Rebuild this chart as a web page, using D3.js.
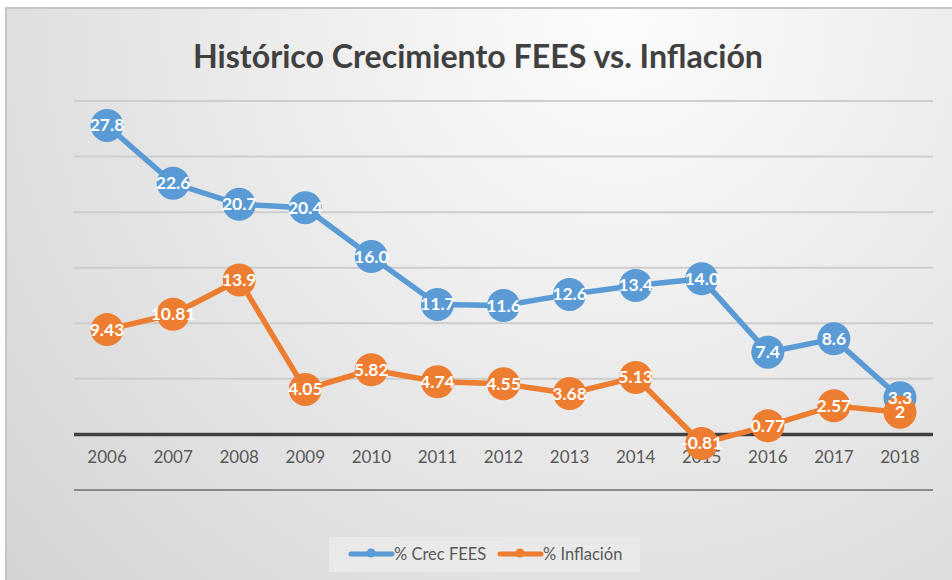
<!DOCTYPE html>
<html>
<head>
<meta charset="utf-8">
<script src="https://cdn.jsdelivr.net/npm/d3@7"></script>
<style>
  body { margin: 0; background: #fff; }
  svg { display: block; font-family: Lato, "Open Sans", sans-serif; }
</style>
</head>
<body>
<svg id="chart" width="952" height="580"></svg>
<script>

var years = [ '2006', '2007', '2008', '2009', '2010', '2011', '2012', '2013', '2014', '2015', '2016', '2017', '2018' ];
var crecFees = [ 27.8, 22.6, 20.7, 20.4, 16.0, 11.7, 11.6, 12.6, 13.4, 14.0, 7.4, 8.6, 3.3 ];
var inflacion = [ 9.43, 10.81, 13.9, 4.05, 5.82, 4.74, 4.55, 3.68, 5.13, -0.81, 0.77, 2.57, 2 ];
var feesLabels = [ '27.8', '22.6', '20.7', '20.4', '16.0', '11.7', '11.6', '12.6', '13.4', '14.0', '7.4', '8.6', '3.3' ];
var inflLabels = [ '9.43', '10.81', '13.9', '4.05', '5.82', '4.74', '4.55', '3.68', '5.13', '-0.81', '0.77', '2.57', '2' ];
var yTicks = [ -5, 0, 5, 10, 15, 20, 25, 30 ];

var series = [
	{ name: '% Crec FEES', values: crecFees, labels: feesLabels, color: '#5b9bd5' },
	{ name: '% Inflación', values: inflacion, labels: inflLabels, color: '#ed7d31' }
];

var svg = d3.select( '#chart' );

// background, whitest near the top middle
var defs = svg.append( 'defs' );
var grad = defs.append( 'radialGradient' )
	.attr( 'id', 'bg' )
	.attr( 'gradientUnits', 'userSpaceOnUse' )
	.attr( 'cx', 620 ).attr( 'cy', 20 )
	.attr( 'r', 820 );
grad.append( 'stop' ).attr( 'offset', '0' ).attr( 'stop-color', '#fcfcfc' );
grad.append( 'stop' ).attr( 'offset', '0.45' ).attr( 'stop-color', '#ebebeb' );
grad.append( 'stop' ).attr( 'offset', '1' ).attr( 'stop-color', '#d4d4d4' );

svg.append( 'rect' )
	.attr( 'x', 6 ).attr( 'y', 8 )
	.attr( 'width', 960 ).attr( 'height', 590 )
	.attr( 'fill', 'url(#bg)' )
	.attr( 'stroke', '#c6c6c6' )
	.attr( 'stroke-width', 2 );

// title
svg.append( 'text' )
	.attr( 'x', 478 ).attr( 'y', 68 )
	.attr( 'text-anchor', 'middle' )
	.attr( 'font-weight', 'bold' )
	.attr( 'font-size', 32 )
	.attr( 'fill', '#404040' )
	.attr( 'textLength', 570 )
	.attr( 'lengthAdjust', 'spacingAndGlyphs' )
	.text( 'Histórico Crecimiento FEES vs. Inflación' );

var plot = { left: 74, right: 933, top: 101, bottom: 490 };

var x = d3.scaleBand().domain( years ).range( [ plot.left, plot.right ] );
var y = d3.scaleLinear().domain( [ -5, 30 ] ).range( [ plot.bottom, plot.top ] );

// gridlines
svg.append( 'g' )
	.selectAll( 'line' )
	.data( yTicks )
	.enter()
	.append( 'line' )
	.attr( 'x1', plot.left ).attr( 'x2', plot.right )
	.attr( 'y1', function ( d ) { return y( d ); } )
	.attr( 'y2', function ( d ) { return y( d ); } )
	.attr( 'stroke', function ( d ) {
		if ( d === 0 ) return '#404040';
		if ( d === -5 ) return '#8a8a8a';
		return '#cdcdcd';
	} )
	.attr( 'stroke-width', function ( d ) { return d === 0 ? 3.5 : 2; } );

// x labels
var xAxis = d3.axisBottom( x ).tickSize( 0 ).tickPadding( 0 );
var gx = svg.append( 'g' )
	.attr( 'transform', 'translate(0,' + ( y( 0 ) + 16 ) + ')' )
	.call( xAxis );
gx.select( '.domain' ).remove();
gx.selectAll( 'text' )
	.attr( 'font-family', 'Lato, "Open Sans", sans-serif' )
	.attr( 'font-size', 17 )
	.attr( 'fill', '#595959' );

var line = d3.line()
	.x( function ( d, i ) { return x( years[i] ) + x.bandwidth() / 2; } )
	.y( function ( d ) { return y( d ); } );

series.forEach( function ( s ) {

	var g = svg.append( 'g' );

	g.append( 'path' )
		.datum( s.values )
		.attr( 'd', line )
		.attr( 'fill', 'none' )
		.attr( 'stroke', s.color )
		.attr( 'stroke-width', 5.5 )
		.attr( 'stroke-linejoin', 'round' );

	g.selectAll( 'circle' )
		.data( s.values )
		.enter()
		.append( 'circle' )
		.attr( 'cx', function ( d, i ) { return x( years[i] ) + x.bandwidth() / 2; } )
		.attr( 'cy', function ( d ) { return y( d ); } )
		.attr( 'r', 16.5 )
		.attr( 'fill', s.color );

} );

// labels on top of everything
series.forEach( function ( s ) {
	svg.append( 'g' )
		.selectAll( 'text' )
		.data( s.values )
		.enter()
		.append( 'text' )
		.attr( 'x', function ( d, i ) { return x( years[i] ) + x.bandwidth() / 2; } )
		.attr( 'y', function ( d ) { return y( d ) + 6; } )
		.attr( 'text-anchor', 'middle' )
		.attr( 'font-weight', 'bold' )
		.attr( 'font-size', 17.5 )
		.attr( 'fill', '#ffffff' )
		.text( function ( d, i ) { return s.labels[i]; } );
} );

// legend
var legend = svg.append( 'g' );
legend.append( 'rect' )
	.attr( 'x', 329 ).attr( 'y', 537 )
	.attr( 'width', 311 ).attr( 'height', 35 )
	.attr( 'fill', '#e9e9e9' );

var legendX = [ 351, 500 ];
series.forEach( function ( s, i ) {
	var lg = legend.append( 'g' ).attr( 'transform', 'translate(' + legendX[i] + ',554)' );
	lg.append( 'line' )
		.attr( 'x1', 0 ).attr( 'x2', 41 )
		.attr( 'stroke', s.color )
		.attr( 'stroke-width', 5 )
		.attr( 'stroke-linecap', 'round' );
	lg.append( 'circle' )
		.attr( 'cx', 20 ).attr( 'cy', -1 )
		.attr( 'r', 4.5 )
		.attr( 'fill', s.color );
	lg.append( 'text' )
		.attr( 'x', 43 ).attr( 'y', 6 )
		.attr( 'font-size', 16.5 )
		.attr( 'fill', '#595959' )
		.text( s.name );
} );

</script>
</body>
</html>
